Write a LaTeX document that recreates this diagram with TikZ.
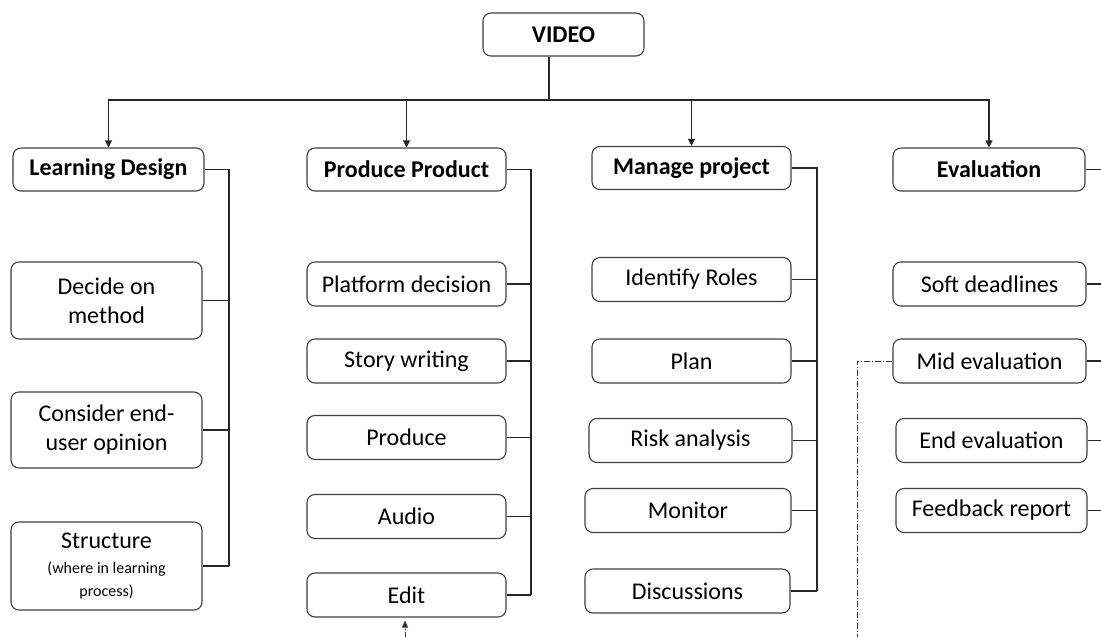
\documentclass[tikz,border=0pt]{standalone}
\usepackage{fontspec}
\setmainfont{Carlito}
\usepackage{xcolor}
\usepackage{tikz}
\usetikzlibrary{arrows.meta,positioning}

\definecolor{boxline}{HTML}{404040}
\newcommand{\subnote}[1]{{\fontsize{16}{18}\selectfont #1}}

\begin{document}
\begin{tikzpicture}[
    x=1pt, y=-1pt,
    every node/.style={font=\fontsize{24}{29}\selectfont},
    head/.style={
        rectangle,
        rounded corners=8pt,
        draw=boxline,
        line width=1.1pt,
        align=center,
        font=\fontsize{24}{29}\selectfont\bfseries,
        minimum height=43pt,
        inner sep=2pt
    },
    task/.style={
        rectangle,
        rounded corners=8pt,
        draw=boxline,
        line width=1.1pt,
        align=center,
        minimum height=44pt,
        inner sep=2pt
    },
    link/.style={
        line width=1.1pt,
        draw=black!85
    },
    arrow/.style={
        link,
        -{Triangle[length=7pt,width=7pt]}
    },
    dashdot/.style={
        line width=0.9pt,
        draw=black!80,
        dash pattern=on 6pt off 2pt on 1pt off 2pt
    }
]

\clip (0,0) rectangle (1101,637);

% =========================================================
% ROOT AND MAIN BRANCHES
% =========================================================

\node[head, minimum width=161pt] (video) at (563.5,34.5) {VIDEO};

\node[head, minimum width=191pt] (design)   at (108.5,169.5) {Learning Design};
\node[head, minimum width=199pt] (product)  at (406.5,169.5) {Produce Product};
\node[head, minimum width=199pt] (manage)   at (691.5,168) {Manage project};
\node[head, minimum width=192pt] (evaluate) at (989,169.5) {Evaluation};

\coordinate (hub) at (549,100);

% =========================================================
% LEARNING DESIGN
% =========================================================

\node[task, minimum width=191pt, minimum height=77pt] (method) at (106.5,300.5) {
Decide on\\
method
};

\node[task, minimum width=191pt, minimum height=76pt] (opinion) at (106.5,430) {
Consider end-\\
user opinion
};

\node[task, minimum width=191pt, minimum height=88pt] (structure) at (106.5,566) {
Structure\\[-4pt]
\subnote{(where in learning}\\[-6pt]
\subnote{process)}
};

% =========================================================
% PRODUCE PRODUCT
% =========================================================

\node[task, minimum width=199pt] (platform) at (406.5,284) {Platform decision};
\node[task, minimum width=199pt] (story)    at (406.5,361) {Story writing};
\node[task, minimum width=199pt] (produce)  at (406.5,437.5) {Produce};
\node[task, minimum width=199pt] (audio)    at (406.5,516.5) {Audio};
\node[task, minimum width=199pt] (edit)     at (406.5,595) {Edit};

% =========================================================
% MANAGE PROJECT
% =========================================================

\node[task, minimum width=199pt] (roles)    at (691.5,279.5) {Identify Roles};
\node[task, minimum width=199pt] (plan)     at (691.5,361) {Plan};
\node[task, minimum width=203pt] (risk)     at (690.5,440.5) {Risk analysis};
\node[task, minimum width=206pt] (monitor)  at (688,510.5) {Monitor};
\node[task, minimum width=205pt] (discuss)  at (687.5,591) {Discussions};

% =========================================================
% EVALUATION
% =========================================================

\node[task, minimum width=193pt] (soft)     at (989.5,284) {Soft deadlines};
\node[task, minimum width=193pt] (mideval)  at (989.5,361) {Mid evaluation};
\node[task, minimum width=191pt] (endeval)  at (991.5,440.5) {End evaluation};
\node[task, minimum width=191pt] (feedback) at (991.5,510.5) {Feedback report};

% =========================================================
% TREE CONNECTORS
% =========================================================

\draw[link] (hub |- video.south) -- (hub);
\foreach \branch in {design,product,manage,evaluate}
    \draw[arrow] (hub) -| (\branch);

% side buses
\coordinate (designbus)   at (229,0);
\coordinate (productbus)  at (531,0);
\coordinate (managebus)   at (817,0);
\coordinate (evaluatebus) at (1112,0);

\draw[link] (design.east) -| (designbus |- structure.east);
\foreach \child in {method,opinion,structure}
    \draw[link] (\child.east) -- (\child.east -| designbus);

\draw[link] (product.east) -| (productbus |- edit.east);
\foreach \child in {platform,story,produce,audio,edit}
    \draw[link] (\child.east) -- (\child.east -| productbus);

\draw[link] (manage.east) -| (managebus |- discuss.east);
\foreach \child in {roles,plan,risk,monitor,discuss}
    \draw[link] (\child.east) -- (\child.east -| managebus);

\draw[link] (evaluate.east) -| (evaluatebus |- feedback.east);
\foreach \child in {soft,mideval,endeval,feedback}
    \draw[link] (\child.east) -- (\child.east -| evaluatebus);

% =========================================================
% LOOSE ENDS (continue below the frame)
% =========================================================

\coordinate (editin)  at (405,660);
\coordinate (midout)  at (857,660);

\draw[dashdot, -{Triangle[length=7pt,width=6pt]}]
    (editin) -- ([yshift=-3pt]edit.south -| editin);

\draw[dashdot]
    (mideval.west) -| (midout);

\end{tikzpicture}
\end{document}
